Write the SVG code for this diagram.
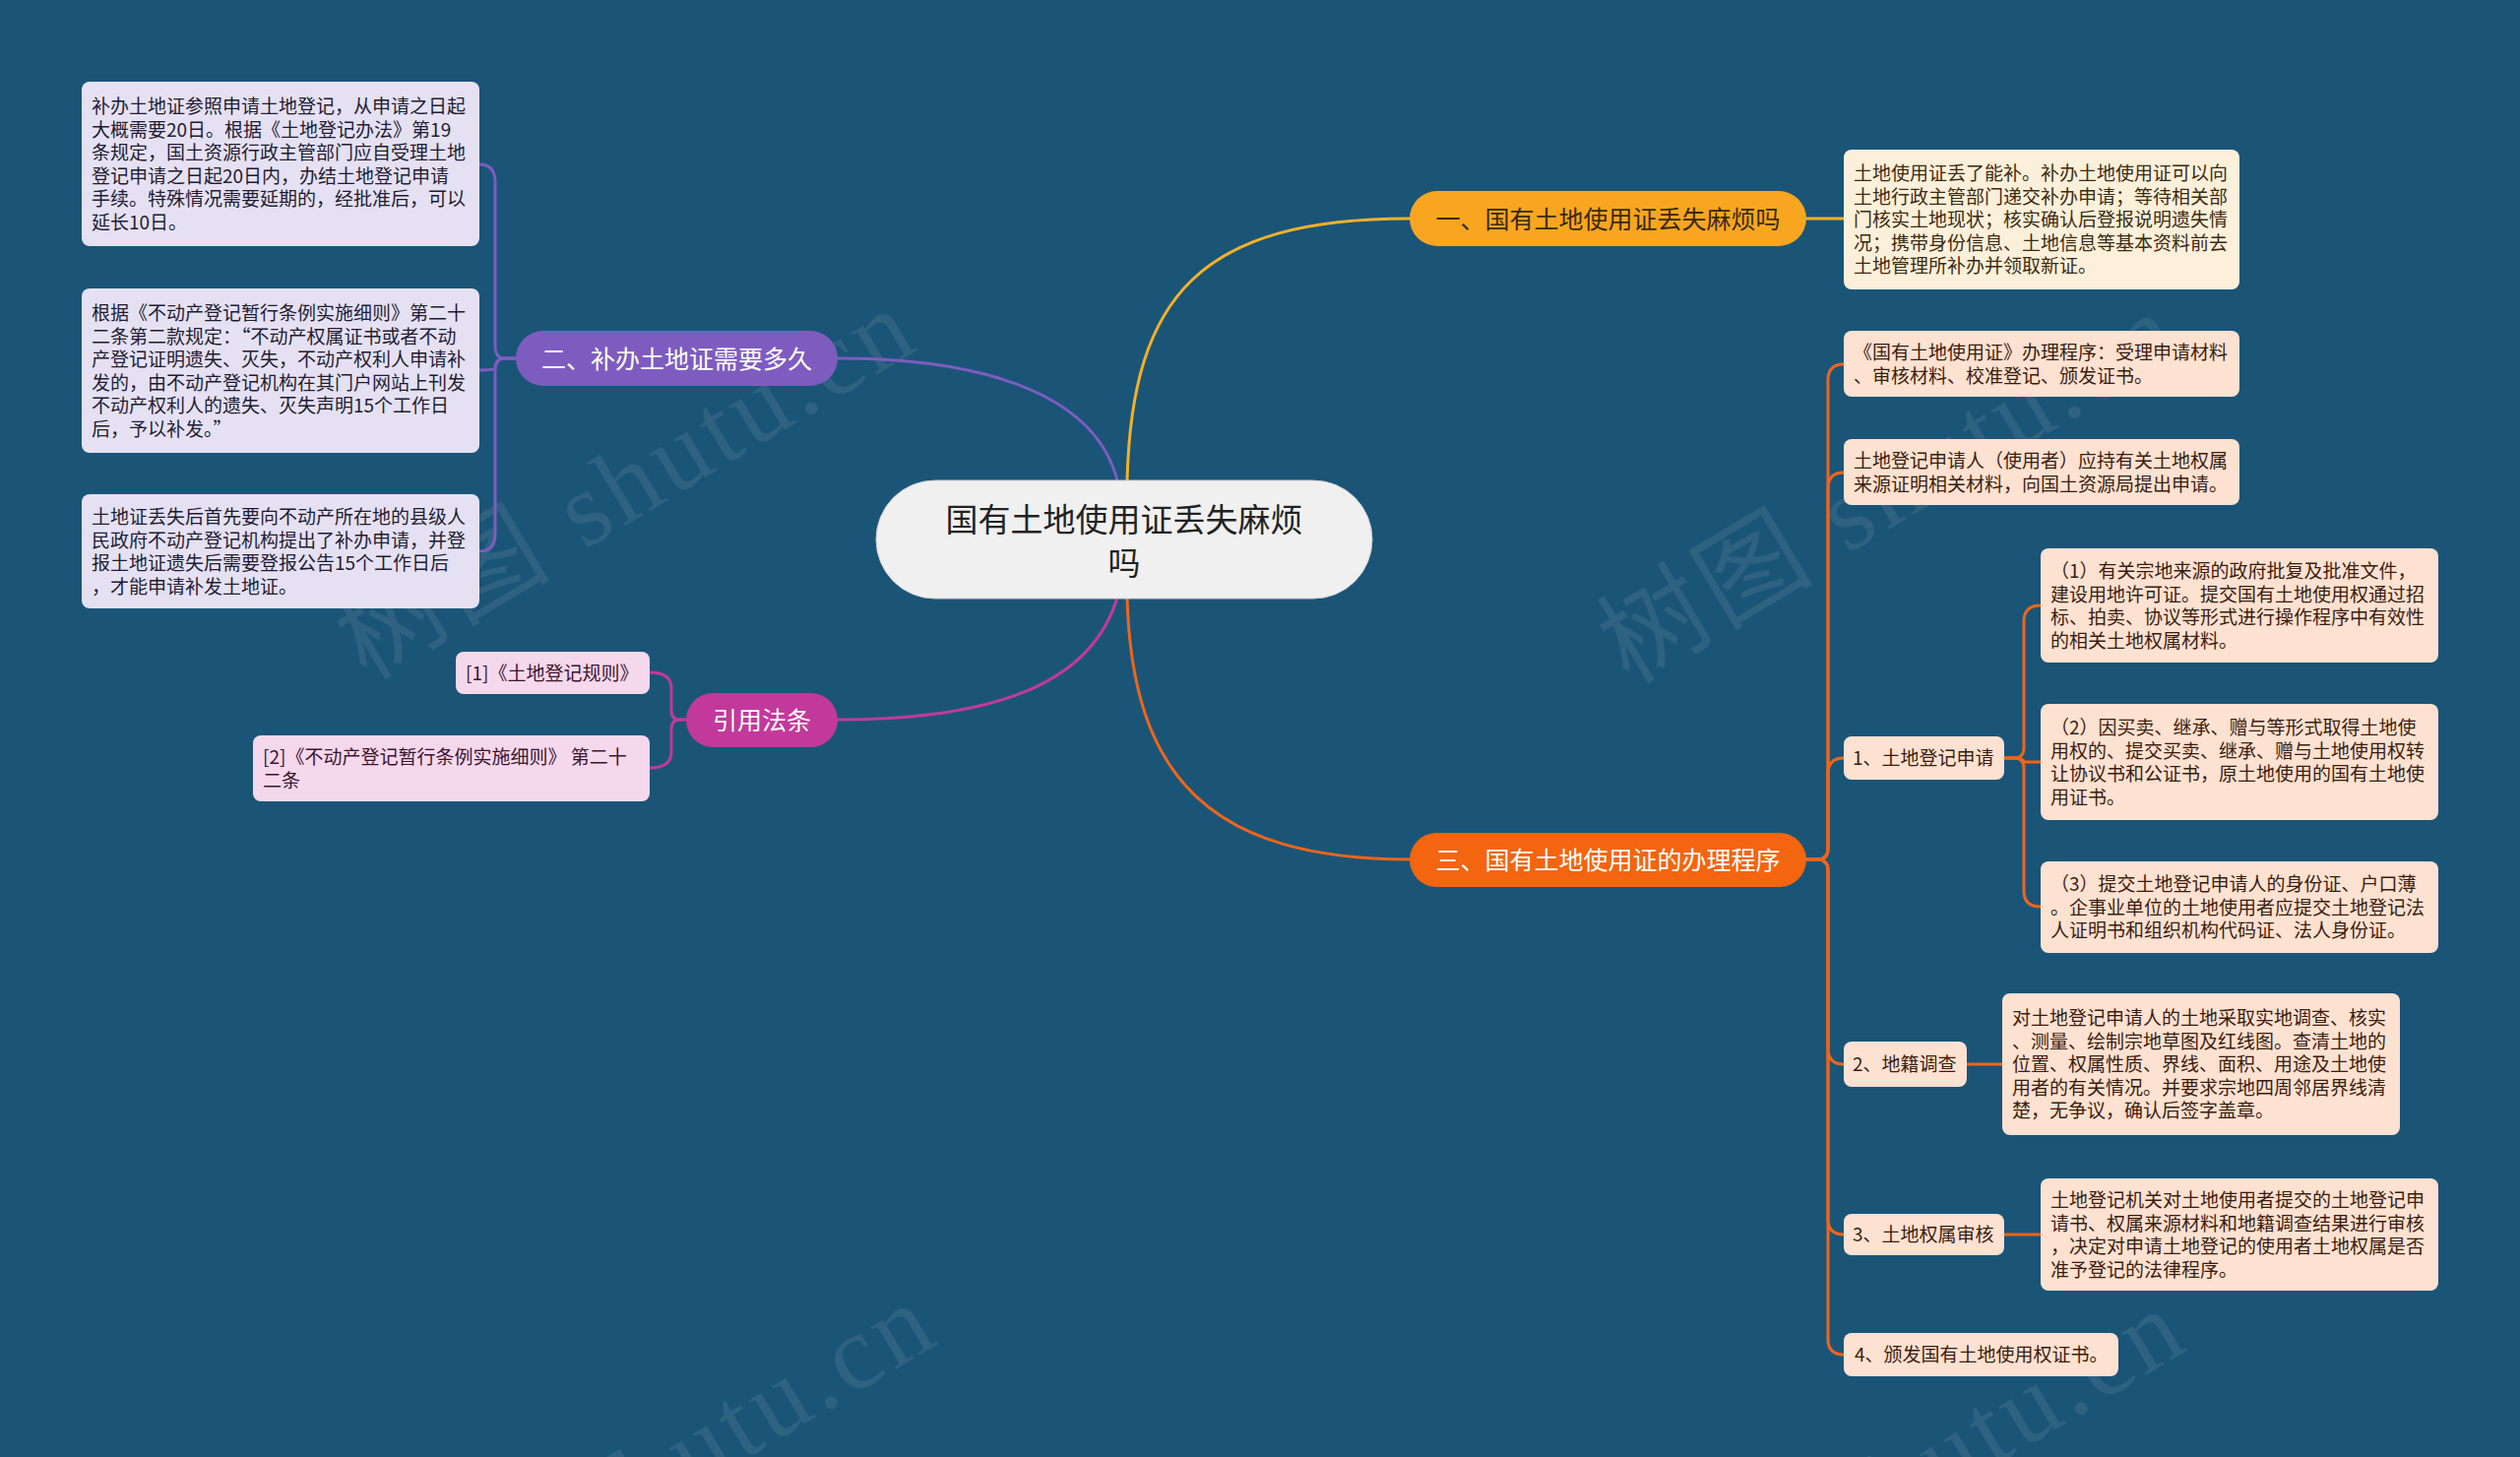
<svg xmlns="http://www.w3.org/2000/svg" width="2560" height="1480" viewBox="0 0 2560 1480">
<style>
text{font-family:"Noto Sans CJK SC","Noto Sans",sans-serif;}
.leaf{font-size:19px;}
.lav rect{fill:#e5e1f3;}
.lav text{fill:#221c33;}
.pink rect{fill:#f6d8ec;}
.pink text{fill:#3a1530;}
.cream rect{fill:#fdf0da;}
.cream text{fill:#3b2b10;}
.peach rect{fill:#fde1d1;}
.peach text{fill:#3b1c0c;}
.br{font-size:25px;text-anchor:middle;}
.conn path{fill:none;stroke-width:3;stroke-linecap:round;}
.wm{font-family:"Liberation Serif","Noto Sans CJK SC",serif;font-size:108px;letter-spacing:5px;fill:#9aa3aa;opacity:0.16;}
</style>
<rect width="2560" height="1480" fill="#1a5578"/>

<g id="watermark">
<text class="wm" transform="translate(372,692) rotate(-31)">树图 shutu.cn</text>
<text class="wm" transform="translate(1655,696) rotate(-31)">树图 shutu.cn</text>
<text class="wm" transform="translate(392,1702) rotate(-31)">树图 shutu.cn</text>
<text class="wm" transform="translate(1662,1708) rotate(-31)">树图 shutu.cn</text>
</g>

<g id="connectors" class="conn">
<path stroke="#7e5cbf" d="M1135,488 C1115,410 1020,364 851,364"/>
<path stroke="#f4b12a" d="M1145,488 C1150,300 1220,222 1432,222"/>
<path stroke="#c2399b" d="M1135,607 C1110,690 1020,731 851,731"/>
<path stroke="#f0651a" d="M1145,607 C1150,790 1230,873 1432,873"/>
<path stroke="#f4b12a" d="M1835,222 L1873,222"/>
<path stroke="#7e5cbf" d="M524,364 L513,364 Q503,364 503,352 L503,185 Q503,167 487,167"/>
<path stroke="#7e5cbf" d="M524,364 L513,364 Q503,364 503,374 Q503,376 487,376"/>
<path stroke="#7e5cbf" d="M524,364 L513,364 Q503,364 503,376 L503,542 Q503,560 487,560"/>
<path stroke="#c2399b" d="M697,731 L690,731 Q682,731 682,721 L682,699 Q682,683 660,683"/>
<path stroke="#c2399b" d="M697,731 L690,731 Q682,731 682,741 L682,764 Q682,780 660,780"/>
<path stroke="#f0651a" d="M1835,873 L1846,873 Q1857,873 1857,862 L1857,386 Q1857,370 1873,370"/>
<path stroke="#f0651a" d="M1835,873 L1846,873 Q1857,873 1857,862 L1857,496 Q1857,480 1873,480"/>
<path stroke="#f0651a" d="M1835,873 L1846,873 Q1857,873 1857,862 L1857,786 Q1857,770 1873,770"/>
<path stroke="#f0651a" d="M1835,873 L1846,873 Q1857,873 1857,884 L1857,1065 Q1857,1081 1873,1081"/>
<path stroke="#f0651a" d="M1835,873 L1846,873 Q1857,873 1857,884 L1857,1238 Q1857,1254 1873,1254"/>
<path stroke="#f0651a" d="M1835,873 L1846,873 Q1857,873 1857,884 L1857,1360 Q1857,1376 1873,1376"/>
<path stroke="#f0651a" d="M2036,770 L2046,770 Q2056,770 2056,760 L2056,631 Q2056,615 2073,615"/>
<path stroke="#f0651a" d="M2036,770 L2046,770 Q2056,770 2056,774 L2073,774"/>
<path stroke="#f0651a" d="M2036,770 L2046,770 Q2056,770 2056,780 L2056,905 Q2056,921 2073,921"/>
<path stroke="#f0651a" d="M1998,1081 L2034,1081"/>
<path stroke="#f0651a" d="M2036,1254 L2073,1254"/>
</g>

<g id="center">
<rect x="890" y="488" width="504" height="120" rx="60" fill="#f0f0f0" stroke="#d0d0d0" stroke-width="1"/>
<text x="1142" y="540" font-size="33" text-anchor="middle" fill="#222">国有土地使用证丢失麻烦</text>
<text x="1142" y="584" font-size="33" text-anchor="middle" fill="#222">吗</text>
</g>

<g id="branch1">
<rect x="1432" y="194" width="403" height="56" rx="28" fill="#f8a620"/>
<text class="br" x="1633.5" y="231.5" fill="#3a2a08">一、国有土地使用证丢失麻烦吗</text>
</g>
<g id="branch2">
<rect x="524" y="336" width="327" height="56" rx="28" fill="#7e5cbf"/>
<text class="br" x="687.5" y="373.5" fill="#ffffff">二、补办土地证需要多久</text>
</g>
<g id="branch3">
<rect x="1432" y="846" width="403" height="55" rx="27.5" fill="#f3650f"/>
<text class="br" x="1633.5" y="883" fill="#ffffff">三、国有土地使用证的办理程序</text>
</g>
<g id="branch4">
<rect x="697" y="704" width="154" height="55" rx="27.5" fill="#c2399b"/>
<text class="br" x="774" y="741" fill="#ffffff">引用法条</text>
</g>

<g id="leaf-b2-1" class="lav leaf">
<rect x="83" y="83" width="404" height="167" rx="8"/>
<text x="93" y="115">补办土地证参照申请土地登记，从申请之日起</text>
<text x="93" y="138.5">大概需要20日。根据《土地登记办法》第19</text>
<text x="93" y="162">条规定，国土资源行政主管部门应自受理土地</text>
<text x="93" y="185.5">登记申请之日起20日内，办结土地登记申请</text>
<text x="93" y="209">手续。特殊情况需要延期的，经批准后，可以</text>
<text x="93" y="232.5">延长10日。</text>
</g>
<g id="leaf-b2-2" class="lav leaf">
<rect x="83" y="293" width="404" height="167" rx="8"/>
<text x="93" y="325">根据《不动产登记暂行条例实施细则》第二十</text>
<text x="93" y="348.5">二条第二款规定：“不动产权属证书或者不动</text>
<text x="93" y="372">产登记证明遗失、灭失，不动产权利人申请补</text>
<text x="93" y="395.5">发的，由不动产登记机构在其门户网站上刊发</text>
<text x="93" y="419">不动产权利人的遗失、灭失声明15个工作日</text>
<text x="93" y="442.5">后，予以补发。”</text>
</g>
<g id="leaf-b2-3" class="lav leaf">
<rect x="83" y="502" width="404" height="116" rx="8"/>
<text x="93" y="532">土地证丢失后首先要向不动产所在地的县级人</text>
<text x="93" y="555.5">民政府不动产登记机构提出了补办申请，并登</text>
<text x="93" y="579">报土地证遗失后需要登报公告15个工作日后</text>
<text x="93" y="602.5">，才能申请补发土地证。</text>
</g>

<g id="leaf-b4-1" class="pink leaf">
<rect x="463" y="662" width="197" height="43" rx="8"/>
<text x="473" y="690.7">[1]《土地登记规则》</text>
</g>
<g id="leaf-b4-2" class="pink leaf">
<rect x="257" y="747" width="403" height="67" rx="8"/>
<text x="267" y="776">[2]《不动产登记暂行条例实施细则》 第二十</text>
<text x="267" y="799.5">二条</text>
</g>

<g id="leaf-b1-1" class="cream leaf">
<rect x="1873" y="152" width="402" height="142" rx="8"/>
<text x="1883" y="183.2">土地使用证丢了能补。补办土地使用证可以向</text>
<text x="1883" y="206.7">土地行政主管部门递交补办申请；等待相关部</text>
<text x="1883" y="230.2">门核实土地现状；核实确认后登报说明遗失情</text>
<text x="1883" y="253.7">况；携带身份信息、土地信息等基本资料前去</text>
<text x="1883" y="277.2">土地管理所补办并领取新证。</text>
</g>

<g id="leaf-b3-a" class="peach leaf">
<rect x="1873" y="336" width="402" height="67" rx="8"/>
<text x="1883" y="365">《国有土地使用证》办理程序：受理申请材料</text>
<text x="1883" y="388.5">、审核材料、校准登记、颁发证书。</text>
</g>
<g id="leaf-b3-b" class="peach leaf">
<rect x="1873" y="446" width="402" height="67" rx="8"/>
<text x="1883" y="475">土地登记申请人（使用者）应持有关土地权属</text>
<text x="1883" y="498.5">来源证明相关材料，向国土资源局提出申请。</text>
</g>
<g id="step1" class="peach leaf">
<rect x="1873" y="748" width="163" height="44" rx="8"/>
<text x="1882" y="777">1、土地登记申请</text>
</g>
<g id="step1-1" class="peach leaf">
<rect x="2073" y="557" width="404" height="116" rx="8"/>
<text x="2083" y="587">（1）有关宗地来源的政府批复及批准文件，</text>
<text x="2083" y="610.5">建设用地许可证。提交国有土地使用权通过招</text>
<text x="2083" y="634">标、拍卖、协议等形式进行操作程序中有效性</text>
<text x="2083" y="657.5">的相关土地权属材料。</text>
</g>
<g id="step1-2" class="peach leaf">
<rect x="2073" y="715" width="404" height="118" rx="8"/>
<text x="2083" y="746">（2）因买卖、继承、赠与等形式取得土地使</text>
<text x="2083" y="769.5">用权的、提交买卖、继承、赠与土地使用权转</text>
<text x="2083" y="793">让协议书和公证书，原土地使用的国有土地使</text>
<text x="2083" y="816.5">用证书。</text>
</g>
<g id="step1-3" class="peach leaf">
<rect x="2073" y="875" width="404" height="93" rx="8"/>
<text x="2083" y="905">（3）提交土地登记申请人的身份证、户口薄</text>
<text x="2083" y="928.5">。企事业单位的土地使用者应提交土地登记法</text>
<text x="2083" y="952">人证明书和组织机构代码证、法人身份证。</text>
</g>
<g id="step2" class="peach leaf">
<rect x="1873" y="1058" width="125" height="46" rx="8"/>
<text x="1882" y="1088">2、地籍调查</text>
</g>
<g id="step2-1" class="peach leaf">
<rect x="2034" y="1009" width="404" height="144" rx="8"/>
<text x="2044" y="1041">对土地登记申请人的土地采取实地调查、核实</text>
<text x="2044" y="1064.5">、测量、绘制宗地草图及红线图。查清土地的</text>
<text x="2044" y="1088">位置、权属性质、界线、面积、用途及土地使</text>
<text x="2044" y="1111.5">用者的有关情况。并要求宗地四周邻居界线清</text>
<text x="2044" y="1135">楚，无争议，确认后签字盖章。</text>
</g>
<g id="step3" class="peach leaf">
<rect x="1873" y="1233" width="163" height="42" rx="8"/>
<text x="1882" y="1261">3、土地权属审核</text>
</g>
<g id="step3-1" class="peach leaf">
<rect x="2073" y="1197" width="404" height="114" rx="8"/>
<text x="2083" y="1226">土地登记机关对土地使用者提交的土地登记申</text>
<text x="2083" y="1249.5">请书、权属来源材料和地籍调查结果进行审核</text>
<text x="2083" y="1273">，决定对申请土地登记的使用者土地权属是否</text>
<text x="2083" y="1296.5">准予登记的法律程序。</text>
</g>
<g id="step4" class="peach leaf">
<rect x="1873" y="1354" width="279" height="44" rx="8"/>
<text x="1884" y="1383">4、颁发国有土地使用权证书。</text>
</g>
</svg>
